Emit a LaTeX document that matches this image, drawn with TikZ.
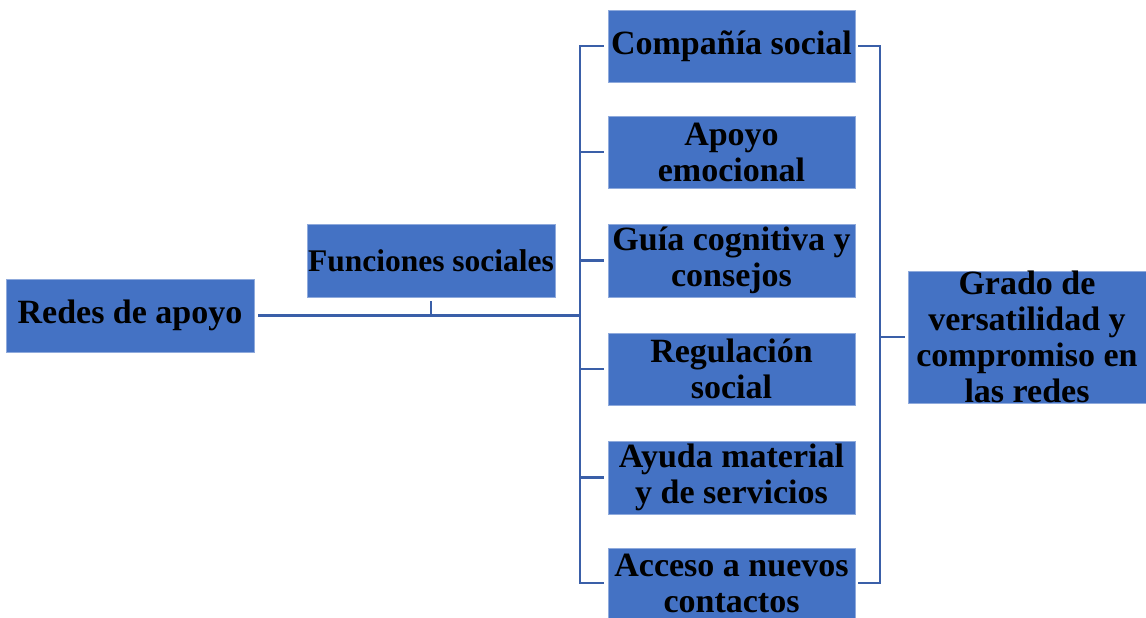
\documentclass[tikz,border=0pt]{standalone}
\usepackage{fontspec}
\setmainfont{Liberation Serif}
\begin{document}
\begin{tikzpicture}[x=1pt,y=-1pt,
  box/.style={fill=boxblue, draw=boxedge, line width=0.6pt, inner sep=0pt, align=center,
    font=\bfseries\fontsize{34}{36}\selectfont, text=black},
  conn/.style={draw=lineblue, line width=2.2pt}]
\definecolor{boxblue}{HTML}{4472C4}
\definecolor{boxedge}{HTML}{8FAADC}
\definecolor{lineblue}{HTML}{3A5FA8}
\useasboundingbox (0,0) rectangle (1146,618);
\node[box, minimum width=248pt, minimum height=73pt] (redes) at (130,315.5) {Redes de apoyo};
\node[box, minimum width=248pt, minimum height=73pt, font=\bfseries\fontsize{31.5}{36}\selectfont] (func) at (431,260.5) {Funciones sociales};
\node[box, minimum width=247pt, minimum height=72pt] (comp) at (731.5,46) {Compañía social};
\node[box, minimum width=247pt, minimum height=72pt] (apoyo) at (731.5,152) {Apoyo\\emocional};
\node[box, minimum width=247pt, minimum height=73pt] (guia) at (731.5,260.5) {Guía cognitiva y\\consejos};
\node[box, minimum width=247pt, minimum height=72pt] (regul) at (731.5,369) {Regulación\\social};
\node[box, minimum width=247pt, minimum height=73pt] (ayuda) at (731.5,477.5) {Ayuda material\\y de servicios};
\node[box, minimum width=247pt, minimum height=70pt] (acceso) at (731.5,583) {Acceso a nuevos\\contactos};
\node[box, minimum width=238pt, minimum height=130pt] (grado) at (1027,337) {Grado de\\versatilidad y\\compromiso en\\las redes};
\coordinate (tj) at (580,315.5);
\coordinate (rj) at (880,337);
% left connections
\draw[conn, shorten <=4pt] (redes.east) -- (tj);
\draw[conn, shorten <=4pt] (func.south) -- (func.south |- tj);
\draw[conn, shorten <=4pt, shorten >=4pt] (comp.west) -| (tj) |- (acceso.west);
\draw[conn, shorten <=4pt] (apoyo.west) -- (apoyo.west -| tj);
\draw[conn, shorten <=4pt] (guia.west) -- (guia.west -| tj);
\draw[conn, shorten <=4pt] (regul.west) -- (regul.west -| tj);
\draw[conn, shorten <=4pt] (ayuda.west) -- (ayuda.west -| tj);
% right connections
\draw[conn, shorten <=3pt, shorten >=3pt] (comp.east) -| (rj) |- (acceso.east);
\draw[conn, shorten >=3pt] (rj) -- (grado.west);
\end{tikzpicture}
\end{document}
